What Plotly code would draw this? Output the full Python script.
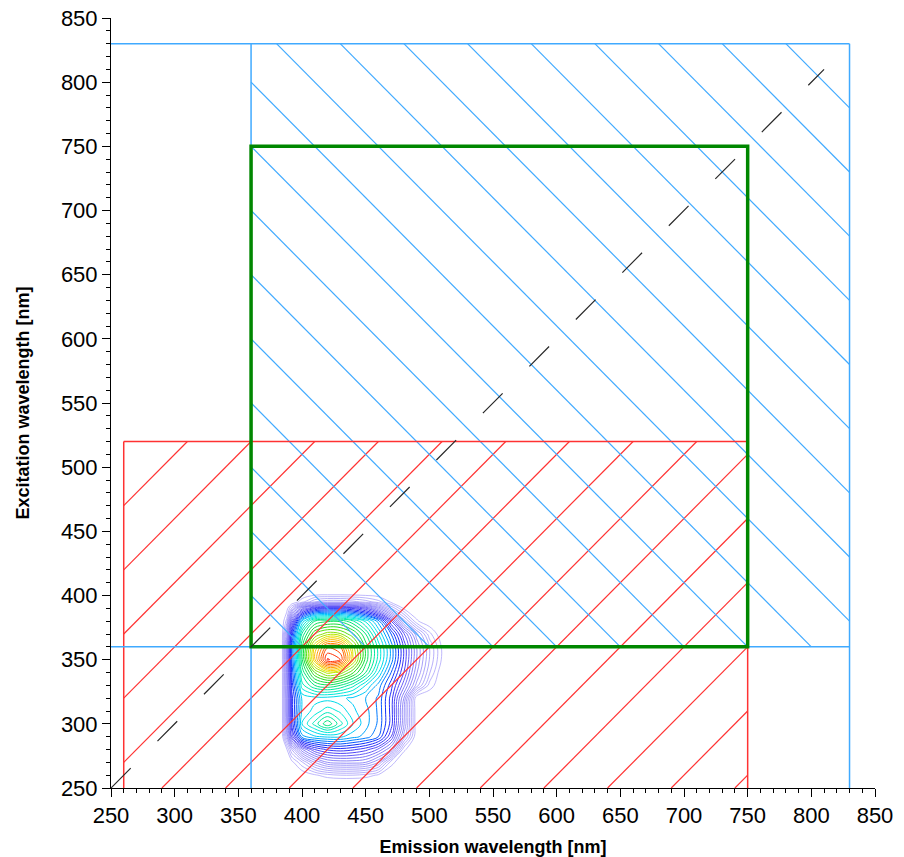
import plotly.graph_objects as go

# ---------------- data ----------------
# Emission (x) and excitation (y) grid of the fluorescence map, nm
emission_nm = [384, 388, 392, 400, 410, 420, 430, 440, 450, 460, 470, 480, 490, 500, 510, 514]
excitation_nm = [255, 260, 270, 280, 290, 300, 310, 320, 330, 340, 350, 360, 370, 380, 390, 395, 402]

# Relative intensity (% of max), rows = excitation
intensity = [
    [0, 0, 0, 0, 0, 0, 0, 0, 0, 0, 0, 0, 0, 0, 0, 0],                   # 255
    [0, 0, 0, 0, 2, 4, 5, 5, 4, 2, 0, 0, 0, 0, 0, 0],                   # 260
    [0, 0, 1.5, 7, 15, 20, 21, 21, 20, 15, 3.5, 0, 0, 0, 0, 0],         # 270
    [0, 2, 10, 22, 30, 33, 34, 33, 31, 27, 20, 3, 0, 0, 0, 0],          # 280
    [0, 12, 28, 44, 47, 48, 48, 46, 44, 40, 30, 14, 0, 0, 0, 0],        # 290
    [0, 15, 33, 50, 56, 62, 56, 50, 46, 42, 34, 18, 0, 0, 0, 0],        # 300
    [0, 16, 34, 48, 51, 54, 52, 48, 46, 42, 34, 18, 0, 0, 0, 0],        # 310
    [0, 16, 34, 48, 49, 49, 48, 47, 45, 42, 34, 20, 0, 0, 0, 0],        # 320
    [0, 17, 36, 54, 60, 62, 60, 56, 50, 44, 36, 26, 14, 4, 0, 0],       # 330
    [0, 18, 38, 58, 70, 76, 74, 68, 60, 50, 40, 30, 18, 8, 0, 0],       # 340
    [0, 18, 40, 62, 82, 98, 95, 78, 64, 54, 44, 32, 20, 10, 2, 0],      # 350
    [0, 18, 40, 62, 80, 92, 90, 76, 64, 54, 44, 32, 20, 10, 2, 0],      # 360
    [0, 14, 36, 58, 70, 74, 73, 68, 60, 50, 40, 28, 16, 6, 0, 0],       # 370
    [0, 6, 26, 48, 60, 62, 62, 58, 52, 44, 30, 14, 3, 0, 0, 0],         # 380
    [0, 1, 8, 24, 32, 34, 34, 32, 28, 20, 10, 2, 0, 0, 0, 0],           # 390
    [0, 0, 0, 4, 10, 12, 12, 11, 9, 6, 2, 0, 0, 0, 0, 0],               # 395
    [0, 0, 0, 0, 0, 0, 0, 0, 0, 0, 0, 0, 0, 0, 0, 0],                   # 402
]

# Regions (em_min, em_max, ex_min, ex_max) in nm
blue_region = [360, 830, 360, 830]      # hatched "\\\\"
red_region = [260, 750, 250, 520]       # hatched "////"
green_box = [360, 750, 360, 750]
hatch_step = 50
hatch_offset = 10
diag_end = 810

axis_min, axis_max = 250, 850

BLUE = "rgb(64,170,255)"
RED = "rgb(255,50,50)"
GREEN = "rgb(0,135,0)"
FONT = "Liberation Sans, Arial, sans-serif"


def hatch_segments(region, slope):
    x0, x1, y0, y1 = region
    segs = []
    if slope > 0:
        cmin, cmax = y0 - x1, y1 - x0
    else:
        cmin, cmax = x0 + y0, x1 + y1
    c = cmin - ((cmin - hatch_offset) % hatch_step)
    while c <= cmax:
        if slope > 0:
            a, b = max(x0, y0 - c), min(x1, y1 - c)
            if b - a > 0.5:
                segs.append((a, a + c, b, b + c))
        else:
            a, b = max(x0, c - y1), min(x1, c - y0)
            if b - a > 0.5:
                segs.append((a, c - a, b, c - b))
        c += hatch_step
    return segs


fig = go.Figure()

fig.add_trace(go.Contour(
    x=emission_nm, y=excitation_nm, z=intensity,
    contours=dict(start=2.5, end=97.5, size=2.5, coloring="lines"),
    line=dict(width=1, smoothing=1.0),
    colorscale=[
        [0.0, "rgba(170,160,250,0.75)"],
        [0.12, "rgba(150,140,248,0.8)"],
        [0.22, "rgba(115,105,245,0.85)"],
        [0.3, "rgb(70,60,245)"],
        [0.36, "rgb(20,40,250)"],
        [0.42, "rgb(0,120,255)"],
        [0.47, "rgb(0,200,250)"],
        [0.53, "rgb(0,235,215)"],
        [0.6, "rgb(0,230,130)"],
        [0.68, "rgb(30,220,30)"],
        [0.75, "rgb(160,230,0)"],
        [0.8, "rgb(240,230,0)"],
        [0.86, "rgb(255,170,0)"],
        [0.92, "rgb(255,100,0)"],
        [1.0, "rgb(255,20,0)"],
    ],
    zmin=0, zmax=100, showscale=False, hoverinfo="skip",
))

shapes = []


def seg(x0, y0, x1, y1, color, width, dash=None):
    line = dict(color=color, width=width)
    if dash:
        line["dash"] = dash
    shapes.append(dict(type="line", xref="x", yref="y", x0=x0, y0=y0, x1=x1, y1=y1,
                       line=line, layer="above"))


for (xa, ya, xb, yb) in hatch_segments(red_region, +1):
    seg(xa, ya, xb, yb, RED, 1.2)
for (xa, ya, xb, yb) in hatch_segments(blue_region, -1):
    seg(xa, ya, xb, yb, BLUE, 1.2)

# red region outline
r0, r1, s0, s1 = red_region
seg(r0, s0, r0, s1, RED, 1.5)
seg(r0, s1, r1, s1, RED, 1.5)
seg(r1, s0, r1, s1, RED, 1.5)

# blue region outline lines (extended to the axes)
b0, b1, t0, t1 = blue_region
seg(b0, axis_min, b0, t1, BLUE, 1.5)
seg(b1, axis_min, b1, t1, BLUE, 1.5)
seg(axis_min, t0, b1, t0, BLUE, 1.5)
seg(axis_min, t1, b1, t1, BLUE, 1.5)

# green box
g0, g1, h0, h1 = green_box
shapes.append(dict(type="rect", xref="x", yref="y", x0=g0, y0=h0, x1=g1, y1=h1,
                   line=dict(color=GREEN, width=3.5), fillcolor="rgba(0,0,0,0)", layer="above"))

# diagonal (first-order Rayleigh scatter line)
seg(axis_min, axis_min, diag_end, diag_end, "rgb(40,40,40)", 1.2, dash="28px,38px")

axis_common = dict(
    range=[axis_min, axis_max], tick0=axis_min, dtick=50,
    showgrid=False, zeroline=False, showline=True, linecolor="black", linewidth=1,
    ticks="outside", ticklen=8, tickwidth=1, tickcolor="black",
    minor=dict(dtick=10, ticks="outside", ticklen=4, tickcolor="black", showgrid=False),
    tickfont=dict(family=FONT, size=22, color="black"),
    fixedrange=True, automargin=False,
)

fig.update_layout(
    width=904, height=857,
    margin=dict(l=111, r=29, t=18, b=69, autoexpand=False),
    paper_bgcolor="white", plot_bgcolor="white",
    showlegend=False,
    shapes=shapes,
    xaxis=dict(**axis_common, title=dict(text="<b>Emission wavelength [nm]</b>", standoff=19,
                                         font=dict(family=FONT, size=18, color="black"))),
    yaxis=dict(**axis_common, title=dict(text="<b>Excitation wavelength [nm]</b>", standoff=26,
                                         font=dict(family=FONT, size=18, color="black"))),
)

fig.write_html("out.html")
